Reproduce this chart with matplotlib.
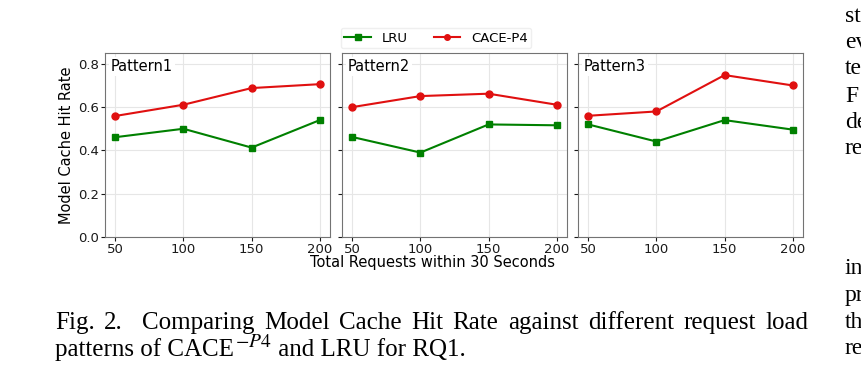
import numpy as np
import matplotlib
matplotlib.use("Agg")
import matplotlib.pyplot as plt

requests = [50, 100, 150, 200]
patterns = ["Pattern1", "Pattern2", "Pattern3"]
lru = [
    [0.461, 0.500, 0.413, 0.540],
    [0.462, 0.390, 0.520, 0.516],
    [0.520, 0.441, 0.540, 0.496],
]
cace = [
    [0.559, 0.611, 0.688, 0.706],
    [0.600, 0.651, 0.662, 0.611],
    [0.560, 0.580, 0.748, 0.700],
]
yticks = [0.0, 0.2, 0.4, 0.6, 0.8]

caption1 = "Fig. 2.  Comparing Model Cache Hit Rate against different request load"
caption2 = ["patterns of CACE", "$-P4$", " and LRU for RQ1."]
side_text = ["st", "ev", "te", "F", "de", "re", "in", "pr", "th", "re"]
side_y = [17, 43, 69, 96, 123, 149, 268, 296, 322, 349]

plt.rcParams["mathtext.fontset"] = "stix"

W, H = 862, 392
fig = plt.figure(figsize=(W / 100, H / 100), dpi=100)

lefts = [105, 342, 578]
axes = []
for i, name in enumerate(patterns):
    ax = fig.add_axes([lefts[i] / W, 1 - 237 / H, 225 / W, 184 / H])
    ax.plot(requests, lru[i], color="green", marker="s", markersize=5, lw=1.5, label="LRU")
    ax.plot(requests, cace[i], color="#e01010", marker="o", markersize=5, lw=1.5, label="CACE-P4")
    ax.set_ylim(0, 0.85)
    ax.set_xticks(requests)
    ax.set_yticks(yticks)
    ax.grid(True, color="0.9", lw=0.8)
    ax.set_axisbelow(True)
    ax.tick_params(labelsize=9.5, colors="0.1", length=3, pad=1.5)
    for s in ax.spines.values():
        s.set_color("0.45")
    if i > 0:
        ax.set_yticklabels([])
    ax.text(0.025, 0.965, name, transform=ax.transAxes, fontsize=10.5, va="top", ha="left",
            bbox=dict(facecolor="white", edgecolor="none", pad=1.5))
    axes.append(ax)

axes[0].set_ylabel("Model Cache Hit Rate", fontsize=10.5, labelpad=3)
fig.text(433 / W, 1 - 262 / H, "Total Requests within 30 Seconds", fontsize=10.5,
         ha="center", va="center")

h, l = axes[0].get_legend_handles_labels()
leg = fig.legend(h, l, loc="center", bbox_to_anchor=(436 / W, 1 - 38 / H), ncol=2,
                 fontsize=9.5, frameon=True, columnspacing=2.0, handlelength=2.0,
                 borderpad=0.3, markerscale=0.8)
leg.get_frame().set_edgecolor("0.92")

renderer = fig.canvas.get_renderer()


def width_of(s, **kw):
    t = fig.text(0, 0, s, **kw)
    w = t.get_window_extent(renderer).width
    t.remove()
    return w


# caption, first line justified between x=55 and x=808
cap_kw = dict(fontsize=18, family="Liberation Serif", ha="left", va="baseline")
sup_kw = dict(fontsize=14, ha="left", va="baseline")
words = caption1.split()
tw = [width_of(w, **cap_kw) for w in words]
weights = [1] * (len(words) - 1)
weights[1] = 2  # double space after "Fig. 2."
gap = (808 - 55 - sum(tw)) / sum(weights)
x = 55
for k, w in enumerate(words):
    fig.text(x / W, 1 - 329 / H, w, **cap_kw)
    if k < len(weights):
        x += tw[k] + gap * weights[k]

# second line with a larger superscript
x = 55
base = 356
fig.text(x / W, 1 - base / H, caption2[0], **cap_kw)
x += width_of(caption2[0], **cap_kw) + 1
fig.text(x / W, 1 - (base - 9) / H, caption2[1], **sup_kw)
x += width_of(caption2[1], **sup_kw) + 1
fig.text(x / W, 1 - base / H, caption2[2], **cap_kw)

for t, y in zip(side_text, side_y):
    fig.text(845 / W, 1 - y / H, t, fontsize=17, family="Liberation Serif",
             ha="left", va="center")

fig.savefig("out.png", dpi=100)
